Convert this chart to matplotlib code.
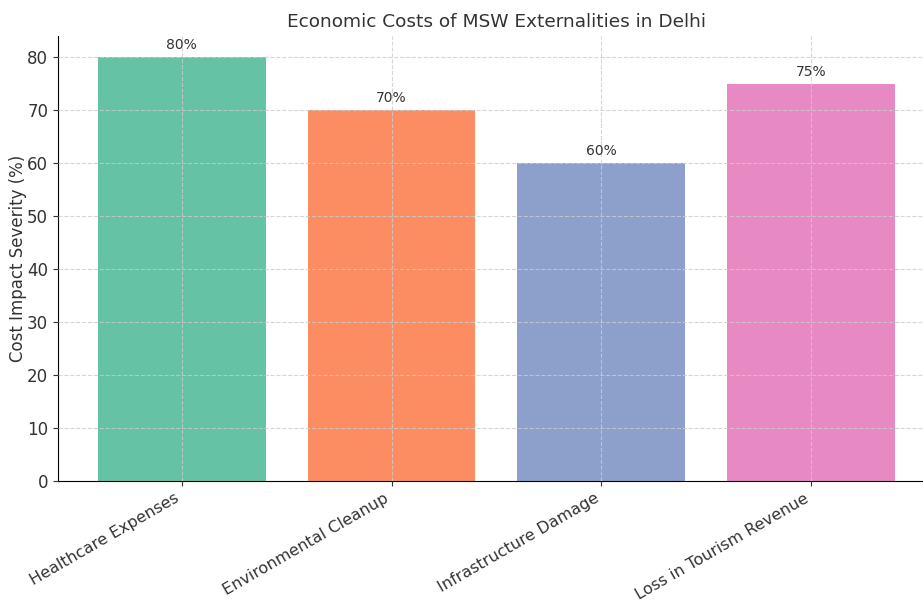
import matplotlib
matplotlib.use("Agg")
import matplotlib.pyplot as plt

categories = ["Healthcare Expenses", "Environmental Cleanup", "Infrastructure Damage", "Loss in Tourism Revenue"]
values = [80, 70, 60, 75]
colors = ["#66c2a5", "#fc8d62", "#8da0cb", "#e78ac3"]

fig = plt.figure(figsize=(9.23, 6.04), dpi=100)
ax = fig.add_axes([0.0628, 0.2036, 0.95, 0.7364])
bars = ax.bar(categories, values, color=colors, width=0.8)
ax.set_ylim(0, 84)
ax.set_xlim(-0.59, 3.59)
ax.set_title("Economic Costs of MSW Externalities in Delhi", fontsize=13.3, color="#333333", pad=7)
ax.set_ylabel("Cost Impact Severity (%)", fontsize=12, color="#333333", labelpad=0)
ax.tick_params(axis="y", labelsize=12, colors="#333333")
ax.tick_params(axis="x", labelsize=11.5, colors="#333333")
for lab in ax.get_xticklabels():
    lab.set_rotation(30)
    lab.set_ha("right")
ax.grid(True, linestyle="--", color="#cccccc", linewidth=0.8, alpha=0.8)
ax.set_axisbelow(False)
for s in ["top", "right"]:
    ax.spines[s].set_visible(False)
for b, v in zip(bars, values):
    ax.text(b.get_x() + b.get_width() / 2, v + 1, f"{v}%", ha="center", va="bottom", fontsize=10, color="#333333")
fig.savefig("out.png", dpi=100)
